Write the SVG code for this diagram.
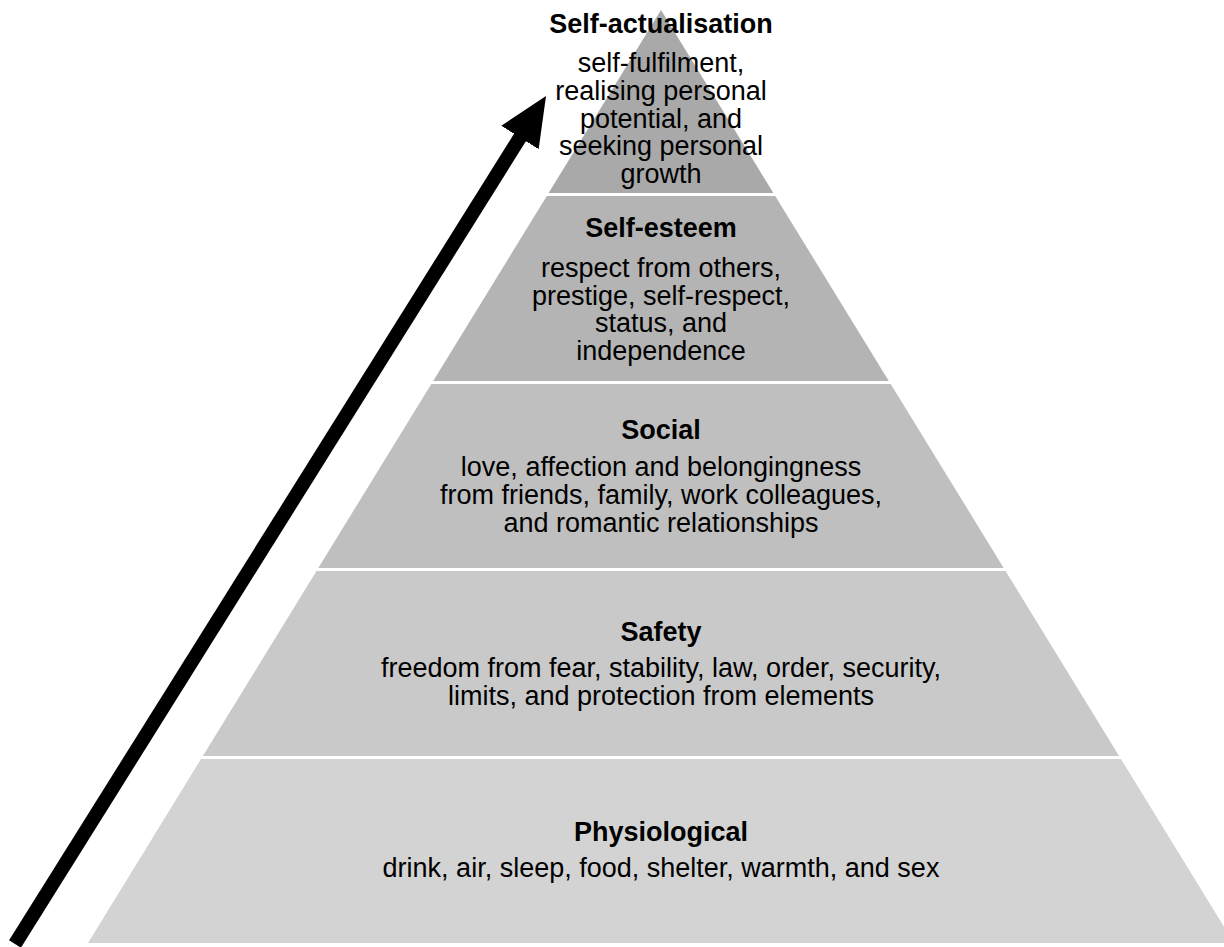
<svg xmlns="http://www.w3.org/2000/svg" width="1224" height="947" viewBox="0 0 1224 947">
  <style>
    .title { font-family: "Liberation Sans", Arial, sans-serif; font-size: 27px; font-weight: bold; fill: #000; text-anchor: middle; }
    .desc { font-family: "Liberation Sans", Arial, sans-serif; font-size: 27px; fill: #000; text-anchor: middle; }
    .arrow { stroke: #000; stroke-width: 14; fill: none; stroke-linecap: butt; }
  </style>
  <defs>
    <marker id="head" markerUnits="userSpaceOnUse" viewBox="0 -25 60 50" markerWidth="60" markerHeight="50" refX="2" refY="0" orient="auto">
      <path d="M0,-22 L49,0 L0,22 Z" fill="#000"/>
    </marker>
  </defs>
  <rect width="1224" height="947" fill="#fff"/>

  <!-- pyramid tiers, bottom to top -->
  <g id="physiological">
    <polygon points="201,759 1121,759 1234,943 88,943" fill="#d3d3d3"/>
    <text class="title" x="661" y="841">Physiological</text>
    <text class="desc" x="661" y="877">drink, air, sleep, food, shelter, warmth, and sex</text>
  </g>
  <g id="safety">
    <polygon points="316.5,571 1005.5,571 1119.1,756 202.9,756" fill="#c9c9c9"/>
    <text class="title" x="661" y="641">Safety</text>
    <text class="desc" x="661" y="677">freedom from fear, stability, law, order, security,</text>
    <text class="desc" x="661" y="705">limits, and protection from elements</text>
  </g>
  <g id="social">
    <polygon points="431.3,384 890.7,384 1003.7,568 318.3,568" fill="#bfbfbf"/>
    <text class="title" x="661" y="439">Social</text>
    <text class="desc" x="661" y="476">love, affection and belongingness</text>
    <text class="desc" x="661" y="504">from friends, family, work colleagues,</text>
    <text class="desc" x="661" y="532">and romantic relationships</text>
  </g>
  <g id="self-esteem">
    <polygon points="546.8,196 775.2,196 888.8,381 433.2,381" fill="#b4b4b4"/>
    <text class="title" x="661" y="237">Self-esteem</text>
    <text class="desc" x="661" y="277">respect from others,</text>
    <text class="desc" x="661" y="305">prestige, self-respect,</text>
    <text class="desc" x="661" y="332">status, and</text>
    <text class="desc" x="661" y="360">independence</text>
  </g>
  <g id="self-actualisation">
    <polygon points="661,10 773.4,193 548.6,193" fill="#a9a9a9"/>
    <text class="title" x="661" y="33">Self-actualisation</text>
    <text class="desc" x="661" y="72">self-fulfilment,</text>
    <text class="desc" x="661" y="100">realising personal</text>
    <text class="desc" x="661" y="128">potential, and</text>
    <text class="desc" x="661" y="155">seeking personal</text>
    <text class="desc" x="661" y="183">growth</text>
  </g>

  <!-- upward arrow -->
  <g id="connectors">
    <line class="arrow" x1="15" y1="944" x2="521.06" y2="135.8" marker-end="url(#head)"/>
  </g>
</svg>
